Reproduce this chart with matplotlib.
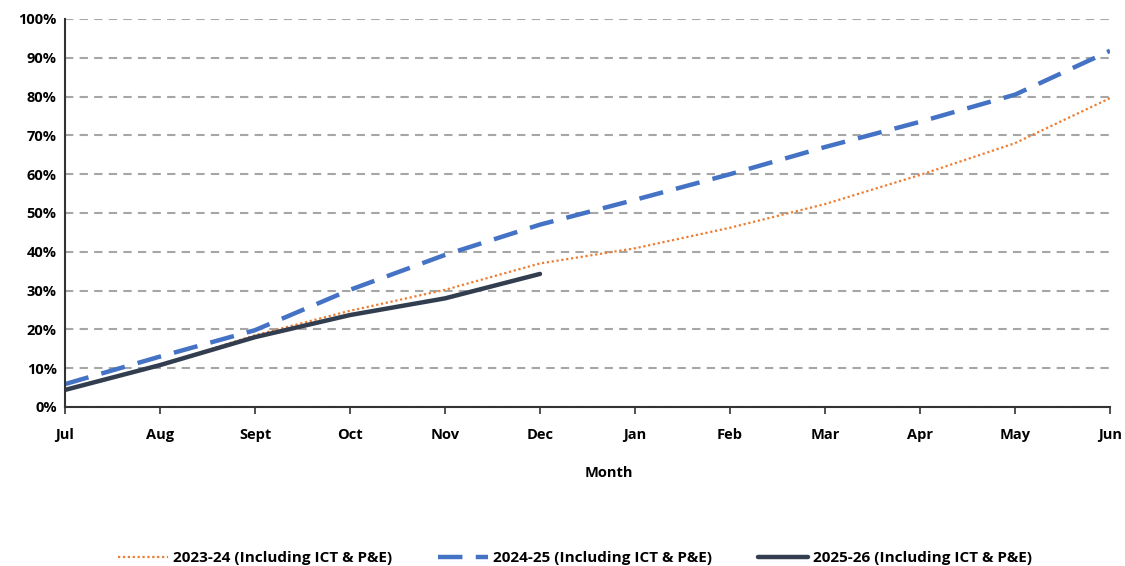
import matplotlib.pyplot as plt
from matplotlib.ticker import PercentFormatter

plt.rcParams['font.family'] = ['Open Sans', 'DejaVu Sans']

months = ['Jul', 'Aug', 'Sept', 'Oct', 'Nov', 'Dec', 'Jan', 'Feb', 'Mar', 'Apr', 'May', 'Jun']
fy2324 = [4.4, 10.8, 18.5, 24.8, 30.2, 37.0, 40.9, 46.2, 52.3, 59.8, 68.0, 79.6]
fy2425 = [5.9, 13.0, 19.8, 30.2, 39.2, 47.0, 53.4, 60.0, 67.0, 73.5, 80.5, 91.8]
fy2526 = [4.4, 10.8, 18.0, 23.7, 28.0, 34.3]

fig = plt.figure(figsize=(11.25, 5.66), dpi=100)
ax = fig.add_axes([65 / 1125, 1 - 407 / 566, 1045 / 1125, 388 / 566])

x = range(len(months))
ax.plot(x, fy2324, color='#ED7D31', lw=1.6, ls=(0, (1, 1.2)), label='2023-24 (Including ICT & P&E)')
ax.plot(x, fy2425, color='#4472C4', lw=3.2, ls=(0, (5.5, 3)), label='2024-25 (Including ICT & P&E)')
ax.plot(range(len(fy2526)), fy2526, color='#323E4F', lw=3.2, solid_capstyle='round',
        label='2025-26 (Including ICT & P&E)')

ax.set_xlim(0, 11)
ax.set_ylim(0, 100)
ax.set_yticks(range(0, 101, 10))
ax.yaxis.set_major_formatter(PercentFormatter(decimals=0))
ax.set_xticks(list(x))
ax.set_xticklabels(months)
ax.grid(axis='y', color='#a6a6a6', ls=(0, (4, 3)), lw=1.5)
ax.set_axisbelow(True)

for s in ['top', 'right']:
    ax.spines[s].set_visible(False)
ax.spines['left'].set_color('#333333')
ax.spines['bottom'].set_color('#333333')
ax.spines['left'].set_linewidth(1.5)
ax.spines['bottom'].set_linewidth(1.5)
ax.tick_params(axis='y', length=0, pad=6, labelsize=10.5)
ax.tick_params(axis='x', length=5, width=1.2, color='#333333', pad=10, labelsize=10.5)
for lab in ax.get_xticklabels() + ax.get_yticklabels():
    lab.set_fontweight('bold')

ax.set_xlabel('Month', fontsize=10.5, fontweight='bold')
ax.xaxis.set_label_coords(0.52, -0.152)

leg = fig.legend(loc='center', bbox_to_anchor=(0.511, 1 - 558 / 566), ncol=3, frameon=False,
                 prop={'size': 11, 'weight': 'bold'}, handlelength=3.3, columnspacing=3.0,
                 handletextpad=0.3)

fig.savefig('out.png', dpi=100)
